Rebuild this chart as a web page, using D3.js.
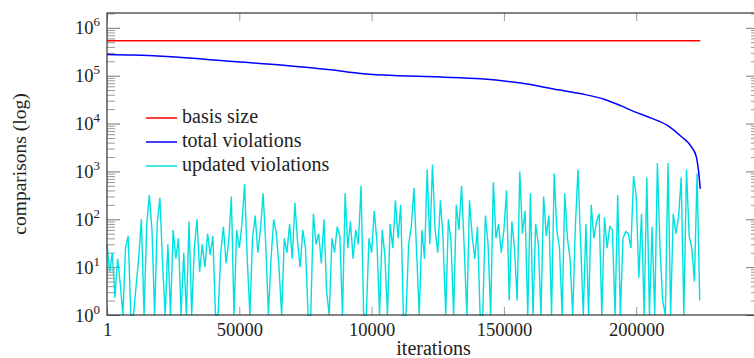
<!DOCTYPE html>
<html>
<head>
<meta charset="utf-8">
<script src="https://cdn.jsdelivr.net/npm/d3@7"></script>
<style>
  body { margin: 0; background: #fff; }
</style>
</head>
<body>
<div id="chart"></div>
<script>
// basis size (constant)
const basisIter = [1, 224200];
const basisVal = [5.4e5, 5.4e5];

// total violations
const totalIter = [1, 10000, 22700, 47700, 66700, 84500, 95000, 104500, 126100, 141300, 156400,
  170500, 179200, 187900, 194300, 199200, 205700, 212100, 217000, 220800, 222700, 223500, 224200];
const totalVal = [2.77e5, 2.7e5, 2.51e5, 1.98e5, 1.66e5, 1.33e5, 1.13e5, 1.03e5, 9.4e4, 8.6e4, 7.0e4,
  5.06e4, 4.18e4, 3.23e4, 2.34e4, 1.78e4, 1.30e4, 8950, 5350, 3300, 2040, 1075, 431];

// updated violations, one sample every 1000 iterations
const updStep = 1000;
const updVal = [
  30, 8, 20, 2.3, 15, 4.5, 1, 25, 45, 1,
  1, 4, 16, 100, 1, 75, 320, 60, 1, 85,
  280, 12, 1, 30, 1, 60, 15, 40, 1, 20,
  1, 90, 1, 25, 100, 8, 30, 10, 50, 18,
  45, 1, 1, 20, 70, 12, 35, 300, 1, 60,
  25, 80, 550, 15, 1, 40, 120, 20, 60, 350,
  30, 1, 15, 100, 50, 10, 1, 40, 20, 80,
  15, 220, 35, 10, 60, 25, 1, 1, 130, 30,
  50, 12, 100, 3, 1, 40, 20, 70, 45, 1,
  350, 25, 90, 15, 60, 30, 500, 1, 1, 40,
  20, 150, 35, 1, 60, 18, 1, 80, 25, 250,
  40, 200, 1, 1, 30, 70, 450, 20, 1, 60,
  15, 1100, 30, 1400, 60, 20, 250, 40, 1, 100,
  35, 1, 200, 60, 500, 25, 1, 250, 45, 15,
  70, 1, 1, 120, 30, 1, 600, 40, 80, 20,
  60, 400, 2, 90, 25, 2, 1000, 50, 150, 1,
  350, 1, 80, 30, 1, 300, 45, 120, 1, 900,
  60, 25, 1, 350, 40, 15, 1, 70, 1100, 30,
  1, 80, 1, 200, 40, 90, 130, 1, 110, 25,
  70, 60, 1, 320, 1, 40, 55, 50, 25, 800,
  300, 6, 130, 1, 750, 1, 70, 1, 1500, 25,
  2, 1, 1500, 1, 130, 50, 110, 750, 1, 1100,
  45, 25, 5, 900, 2
];

const xTicks = [1, 50000, 100000, 150000, 200000];
const xTickLabels = ["1", "50000", "10000", "150000", "200000"];
const yTicks = [1, 10, 100, 1e3, 1e4, 1e5, 1e6];
const yTickExp = ["0", "1", "2", "3", "4", "5", "6"];

const legendItems = [
  { label: "basis size", color: "#ff0000" },
  { label: "total violations", color: "#0000ff" },
  { label: "updated violations", color: "#00e0e0" }
];

const FONT = "Liberation Serif";

const width = 754, height = 358;
const margin = { top: 13, right: -5, bottom: 43, left: 107 };

const svg = d3.select("#chart").append("svg")
  .attr("width", width)
  .attr("height", height)
  .attr("font-family", FONT);

const x = d3.scaleLinear()
  .domain([1, 246400])
  .range([margin.left, width - margin.right]);

const y = d3.scaleLog()
  .domain([1, Math.pow(10, 6.31)])
  .range([height - margin.bottom, margin.top]);

const x0 = margin.left, x1 = width - margin.right;
const y0 = height - margin.bottom, y1 = margin.top;

// minor ticks for the log axis
const yMinor = [];
for (let e = 0; e < 7; e++) {
  for (let m = 2; m <= 9; m++) {
    const v = m * Math.pow(10, e);
    if (v <= y.domain()[1]) yMinor.push(v);
  }
}

function styleTicks(g, color) {
  g.attr("font-family", FONT);
  g.select(".domain").remove();
  g.selectAll(".tick line").attr("stroke", color).attr("stroke-width", 1);
}

// y axes (left + right), ticks pointing inward
svg.append("g")
  .attr("transform", `translate(${x0},0)`)
  .call(d3.axisLeft(y).tickValues(yMinor).tickSize(-8).tickFormat(""))
  .call(g => styleTicks(g, "#999"));
svg.append("g")
  .attr("transform", `translate(${x1},0)`)
  .call(d3.axisRight(y).tickValues(yMinor).tickSize(-8).tickFormat(""))
  .call(g => styleTicks(g, "#999"));

const yLeft = svg.append("g")
  .attr("transform", `translate(${x0},0)`)
  .call(d3.axisLeft(y).tickValues(yTicks).tickSize(-13).tickFormat(""))
  .call(g => styleTicks(g, "#777"));
svg.append("g")
  .attr("transform", `translate(${x1},0)`)
  .call(d3.axisRight(y).tickValues(yTicks).tickSize(-13).tickFormat(""))
  .call(g => styleTicks(g, "#777"));

yLeft.selectAll(".tick text").remove();
yLeft.selectAll(".tick").each(function(d, i) {
  const t = d3.select(this).append("text")
    .attr("x", -7)
    .attr("y", 6)
    .attr("text-anchor", "end")
    .attr("fill", "#222")
    .attr("font-size", 18.5);
  t.append("tspan").text("10");
  t.append("tspan").attr("dy", -8).attr("font-size", 13).text(yTickExp[i]);
});

// x axes (bottom + top)
svg.append("g")
  .attr("transform", `translate(0,${y0})`)
  .call(d3.axisBottom(x).tickValues(xTicks).tickSize(-8).tickPadding(8)
    .tickFormat((d, i) => xTickLabels[i]))
  .call(g => styleTicks(g, "#999"))
  .call(g => g.selectAll(".tick text")
    .attr("font-size", 18.5)
    .attr("fill", "#222"));
svg.append("g")
  .attr("transform", `translate(0,${y1})`)
  .call(d3.axisTop(x).tickValues(xTicks).tickSize(-8).tickFormat(""))
  .call(g => styleTicks(g, "#999"));

// data lines
const line = d3.line()
  .x(d => x(d[0]))
  .y(d => y(d[1]));

svg.append("path")
  .datum(basisIter.map((it, i) => [it, basisVal[i]]))
  .attr("fill", "none")
  .attr("stroke", legendItems[0].color)
  .attr("stroke-width", 1.5)
  .attr("d", line);

svg.append("path")
  .datum(totalIter.map((it, i) => [it, totalVal[i]]))
  .attr("fill", "none")
  .attr("stroke", legendItems[1].color)
  .attr("stroke-width", 1.5)
  .attr("d", line.curve(d3.curveMonotoneX));

line.curve(d3.curveLinear);

svg.append("path")
  .datum(updVal.map((v, i) => [i === 0 ? 1 : i * updStep, v]))
  .attr("fill", "none")
  .attr("stroke", legendItems[2].color)
  .attr("stroke-width", 1.4)
  .attr("d", line);

// frame
svg.append("rect")
  .attr("x", x0).attr("y", y1)
  .attr("width", x1 - x0).attr("height", y0 - y1)
  .attr("fill", "none")
  .attr("stroke", "#333")
  .attr("stroke-width", 1.2);

// legend
const legend = svg.append("g").attr("transform", "translate(146,118)");
legendItems.forEach((item, i) => {
  const row = legend.append("g").attr("transform", `translate(0,${i * 24})`);
  row.append("line")
    .attr("x1", 0).attr("x2", 31)
    .attr("stroke", item.color).attr("stroke-width", 1.5);
  row.append("text")
    .attr("x", 36).attr("y", 5)
    .attr("fill", "#222")
    .attr("font-size", 20)
    .text(item.label);
});

// axis titles
svg.append("text")
  .attr("x", (x0 + 754) / 2 + 3)
  .attr("y", 355)
  .attr("text-anchor", "middle")
  .attr("fill", "#222")
  .attr("font-size", 20)
  .text("iterations");

svg.append("text")
  .attr("transform", `translate(26,${(y0 + y1) / 2}) rotate(-90)`)
  .attr("text-anchor", "middle")
  .attr("fill", "#222")
  .attr("font-size", 19.5)
  .text("comparisons (log)");
</script>
</body>
</html>
